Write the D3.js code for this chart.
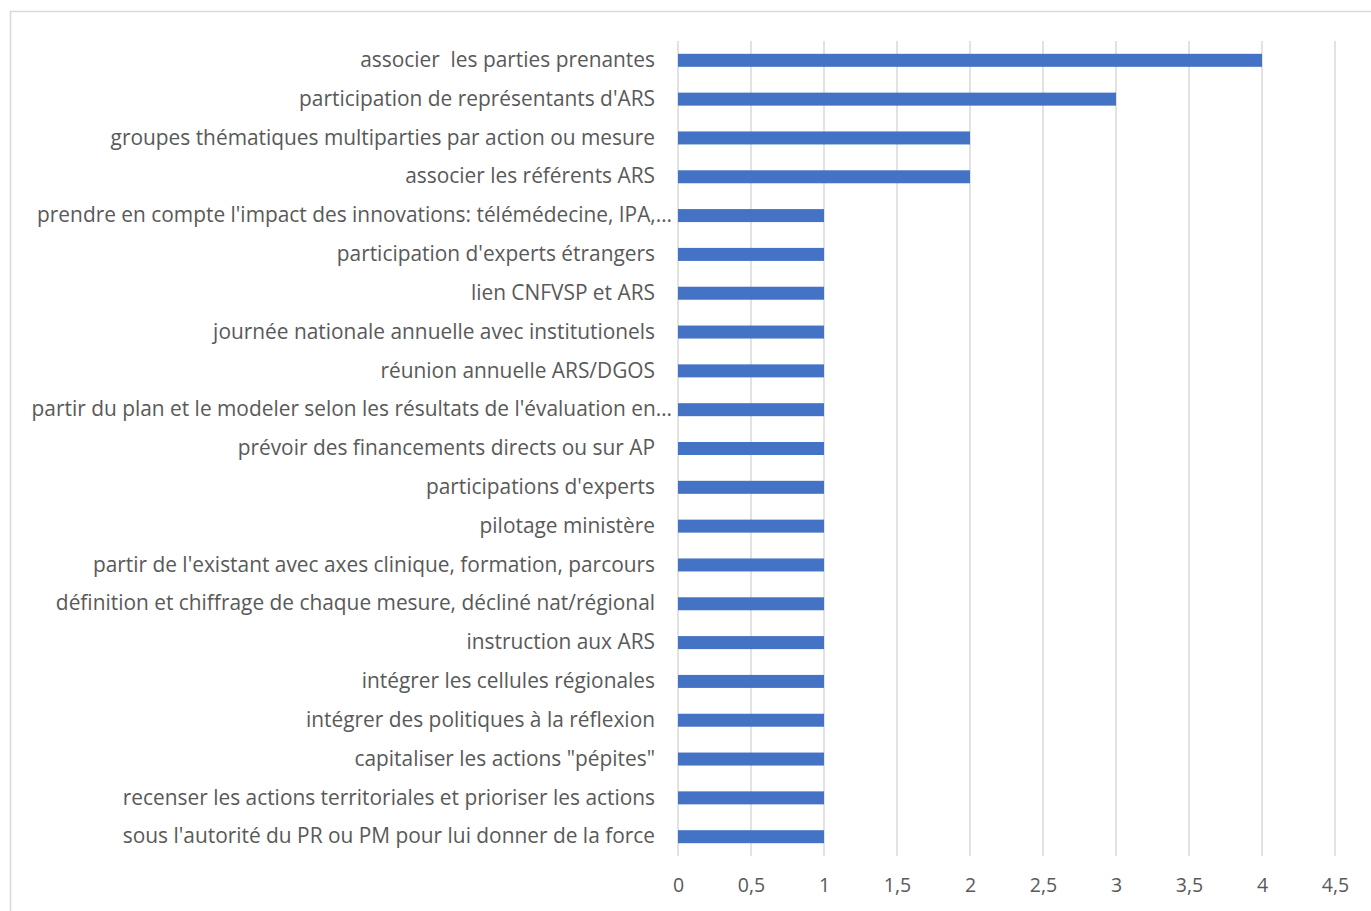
<!DOCTYPE html>
<html>
<head>
<meta charset="utf-8">
<script src="https://cdn.jsdelivr.net/npm/d3@7"></script>
<style>
  body { margin: 0; background: #fff; }
  text { font-family: "Open Sans", sans-serif; fill: #595959; }
</style>
</head>
<body>
<svg id="chart"></svg>
<script>
const categories = [
    'associer  les parties prenantes',
    "participation de représentants d'ARS",
    'groupes thématiques multiparties par action ou mesure',
    'associer les référents ARS',
    "prendre en compte l'impact des innovations: télémédecine, IPA,…",
    "participation d'experts étrangers",
    'lien CNFVSP et ARS',
    'journée nationale annuelle avec institutionels',
    'réunion annuelle ARS/DGOS',
    "partir du plan et le modeler selon les résultats de l'évaluation en…",
    'prévoir des financements directs ou sur AP',
    "participations d'experts",
    'pilotage ministère',
    "partir de l'existant avec axes clinique, formation, parcours",
    'définition et chiffrage de chaque mesure, décliné nat/régional',
    'instruction aux ARS',
    'intégrer les cellules régionales',
    'intégrer des politiques à la réflexion',
    'capitaliser les actions "pépites"',
    'recenser les actions territoriales et prioriser les actions',
    "sous l'autorité du PR ou PM pour lui donner de la force"
];
const values = [4, 3, 2, 2, 1, 1, 1, 1, 1, 1, 1, 1, 1, 1, 1, 1, 1, 1, 1, 1, 1];
const ticks = [0, 0.5, 1, 1.5, 2, 2.5, 3, 3.5, 4, 4.5];

const fullWidth = 1371;
const fullHeight = 911;
const margin = {top: 41, left: 678};

const data = categories.map((name, i) => ({name, value: values[i]}));

const xScale = d3.scaleLinear()
    .domain([0, 4.5])
    .range([0, 657]);

const yScale = d3.scaleBand()
    .domain(categories)
    .range([0, 815])
    .paddingInner(0.665)
    .paddingOuter(0.33);

const svg = d3.select('#chart')
    .attr('width', fullWidth)
    .attr('height', fullHeight);

svg.append('rect')
    .attr('x', 10.5)
    .attr('y', 11.5)
    .attr('width', fullWidth)
    .attr('height', fullHeight)
    .attr('fill', 'none')
    .attr('stroke', '#d9d9d9')
    .attr('stroke-width', 1.5);

const g = svg.append('g')
    .attr('transform', `translate(${margin.left}, ${margin.top})`);

// gridlines
g.append('g').attr('class', 'grid')
    .selectAll('line')
    .data(ticks)
    .enter().append('line')
    .attr('x1', d => xScale(d))
    .attr('x2', d => xScale(d))
    .attr('y1', 0)
    .attr('y2', 815)
    .attr('stroke', '#d9d9d9')
    .attr('stroke-width', 1.5);

// bars
g.append('g').attr('class', 'bars')
    .selectAll('rect')
    .data(data)
    .enter().append('rect')
    .attr('x', 0)
    .attr('y', d => yScale(d.name))
    .attr('width', d => xScale(d.value))
    .attr('height', yScale.bandwidth())
    .attr('fill', '#4472c4');

// x axis
const fmt = d => String(d).replace('.', ',');
const xAxis = d3.axisBottom(xScale)
    .tickValues(ticks)
    .tickFormat(fmt)
    .tickSize(0)
    .tickPadding(22);

const gx = g.append('g')
    .attr('class', 'axis axis--x')
    .attr('transform', 'translate(0, 815)')
    .call(xAxis);
gx.select('.domain').remove();
gx.selectAll('text')
    .attr('font-family', null)
    .attr('font-size', null)
    .style('font-size', '19.5px')
    .attr('fill', '#595959');

// y axis
const yAxis = d3.axisLeft(yScale)
    .tickSize(0)
    .tickPadding(23);

const gy = g.append('g')
    .attr('class', 'axis axis--y')
    .call(yAxis);
gy.select('.domain').remove();
gy.selectAll('text')
    .attr('font-family', null)
    .attr('font-size', null)
    .style('font-size', '19px')
    .style('white-space', 'pre')
    .attr('fill', '#595959');

// fit a reference label to the width it has in the original
const ref = gy.selectAll('text').filter(d => d === categories[2]).node();
const size = Math.max(16, Math.min(22, 19 * 545 / ref.getComputedTextLength()));
gy.selectAll('text').style('font-size', `${size}px`);

// truncated labels run a little past the others, as in the original
gy.selectAll('text')
    .filter(d => d.endsWith('…'))
    .attr('x', -6);
</script>
</body>
</html>
